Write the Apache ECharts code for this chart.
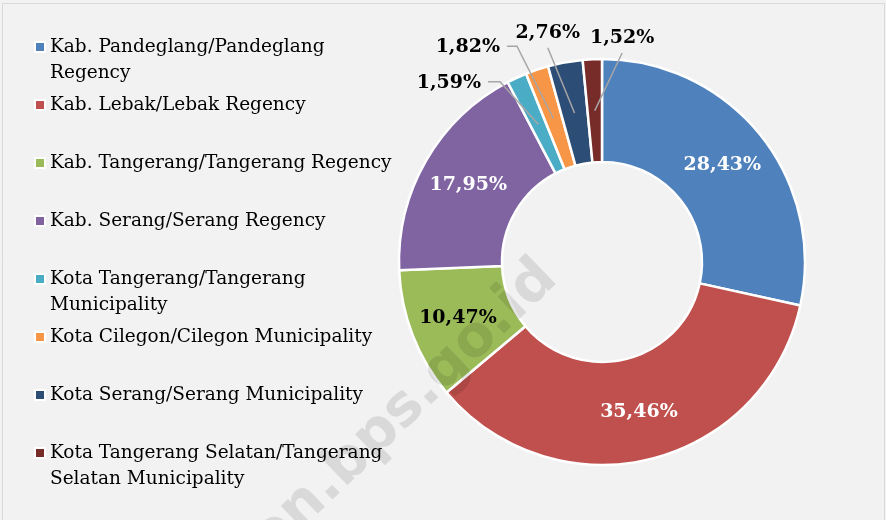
<!DOCTYPE html>
<html>
<head>
<meta charset="utf-8">
<script src="https://cdn.jsdelivr.net/npm/echarts@6/dist/echarts.min.js"></script>
<style>
    html, body { margin: 0; padding: 0; background: #ffffff; }
    #main { width: 886px; height: 520px; }
</style>
</head>
<body>
<div id="main"></div>
<script>
// regions, clockwise from 12 o'clock (same order as the legend)
var regions = [
    'Kab. Pandeglang/Pandeglang Regency',
    'Kab. Lebak/Lebak Regency',
    'Kab. Tangerang/Tangerang Regency',
    'Kab. Serang/Serang Regency',
    'Kota Tangerang/Tangerang Municipality',
    'Kota Cilegon/Cilegon Municipality',
    'Kota Serang/Serang Municipality',
    'Kota Tangerang Selatan/Tangerang Selatan Municipality'
];
// share of each region, %
var shares = [28.43, 35.46, 10.47, 17.95, 1.59, 1.82, 2.76, 1.52];
// legend text as wrapped in the picture
var legendLabels = [
    'Kab. Pandeglang/Pandeglang\nRegency',
    'Kab. Lebak/Lebak Regency',
    'Kab. Tangerang/Tangerang Regency',
    'Kab. Serang/Serang Regency',
    'Kota Tangerang/Tangerang\nMunicipality',
    'Kota Cilegon/Cilegon Municipality',
    'Kota Serang/Serang Municipality',
    'Kota Tangerang Selatan/Tangerang\nSelatan Municipality'
];

var colors = ['#4f81bd', '#c0504d', '#9bbb59', '#8064a2', '#4bacc6', '#f79646', '#2c4d75', '#772c2a'];
var insideColors = ['#ffffff', '#ffffff', '#000000', '#ffffff'];

// donut geometry
var CX = 602, CY = 262, R_IN = 100, R_OUT = 203;
var SERIF = '"DejaVu Serif", serif';
var LINE_H = 26;

// where the leader lines of the thin slices end (deg clockwise from top, px from centre)
var leaders = {
    4: { ang: 330.5, r: 207, tail: -12 },
    5: { ang: 338.5, r: 232, tail: -10 },
    6: { ang: 345.8, r: 221, tail: 0 },
    7: { ang: 5.5, r: 210, tail: 0 }
};

var total = shares.reduce(function (a, b) { return a + b; }, 0);
var midAngle = [];
var acc = 0;
shares.forEach(function (v) {
    midAngle.push((acc + v / 2) / total * 360);
    acc += v;
});

function pct(v) {
    return v.toFixed(2).replace('.', ',') + '%';
}

// slices + the labels that sit inside them
var sliceData = regions.map(function (name, i) {
    var inside = !leaders[i];
    return {
        name: name,
        value: shares[i],
        label: { show: inside, position: 'inside', color: insideColors[i] || '#000000' }
    };
});

// transparent copy drawn on top: carries the outside labels and leader lines,
// so the lines can start in the middle of the thin slices
var leaderData = regions.map(function (name, i) {
    var outside = !!leaders[i];
    return {
        name: name,
        value: shares[i],
        label: { show: outside, position: 'outside', color: '#000000' },
        labelLine: { show: outside }
    };
});

// one legend per row so every marker sits on the first line of its text
var legends = regions.map(function (name, i) {
    var lines = legendLabels[i].split('\n').length;
    var text = lines > 1 ? '\n' + legendLabels[i] : legendLabels[i];
    var h = (lines > 1 ? lines + 1 : 1) * LINE_H;
    return {
        data: [name],
        left: 34,
        top: 47 + 58 * i - h / 2,
        padding: 0,
        itemWidth: 10,
        itemHeight: 10,
        icon: 'rect',
        selectedMode: false,
        itemStyle: { borderColor: '#ffffff', borderWidth: 2 },
        formatter: function () { return text; },
        textStyle: { fontFamily: SERIF, fontSize: 18.5, color: '#000000', lineHeight: LINE_H }
    };
});

var labelFont = {
    fontFamily: SERIF,
    fontWeight: 'bold',
    fontSize: 19,
    formatter: function (p) { return pct(p.value); }
};

var myChart = echarts.init(document.getElementById('main'));

var option = {
    backgroundColor: '#f2f2f2',
    animation: false,
    color: colors,
    legend: legends,
    graphic: [
        {
            type: 'polyline',
            silent: true,
            shape: { points: [[2.5, 520], [2.5, 3.5], [884.5, 3.5], [884.5, 520]] },
            style: { stroke: '#d9d9d9', lineWidth: 1, fill: null }
        },
        {
            type: 'text',
            silent: true,
            z: 100,
            x: 352,
            y: 460,
            rotation: 44 * Math.PI / 180,
            style: {
                text: 'banten.bps.go.id',
                fontFamily: '"DejaVu Sans", sans-serif',
                fontWeight: 'bold',
                fontSize: 57,
                fill: 'rgba(0,0,0,0.1)',
                align: 'center',
                verticalAlign: 'middle'
            }
        }
    ],
    series: [
        {
            type: 'pie',
            z: 2,
            center: [CX, CY],
            radius: [R_IN, R_OUT],
            startAngle: 90,
            clockwise: true,
            avoidLabelOverlap: false,
            silent: true,
            itemStyle: { borderColor: '#ffffff', borderWidth: 2.5 },
            label: labelFont,
            labelLine: { show: false },
            data: sliceData
        },
        {
            type: 'pie',
            z: 3,
            center: [CX, CY],
            radius: [R_IN, R_OUT],
            startAngle: 90,
            clockwise: true,
            avoidLabelOverlap: false,
            silent: true,
            itemStyle: { color: 'rgba(0,0,0,0)', borderWidth: 0 },
            label: labelFont,
            labelLine: {
                length: 10,
                length2: 10,
                lineStyle: { color: '#a6a6a6', width: 1.5 }
            },
            labelLayout: function (p) {
                var k = leaders[p.dataIndex];
                if (!k) return {};
                var a0 = midAngle[p.dataIndex] * Math.PI / 180;
                var rm = (R_IN + R_OUT) / 2;
                var start = [CX + rm * Math.sin(a0), CY - rm * Math.cos(a0)];
                var a1 = k.ang * Math.PI / 180;
                var end = [CX + k.r * Math.sin(a1), CY - k.r * Math.cos(a1)];
                var tailEnd = [end[0] + k.tail, end[1]];
                var pts = [start, end, tailEnd];
                if (k.tail < 0) {
                    return { x: tailEnd[0] - 7, y: tailEnd[1] + 1, align: 'right', verticalAlign: 'middle', labelLinePoints: pts };
                }
                return { x: end[0], y: end[1] - 5, align: 'center', verticalAlign: 'bottom', labelLinePoints: pts };
            },
            data: leaderData
        }
    ]
};

myChart.setOption(option);
window.addEventListener('resize', function () {
    myChart.resize();
});
</script>
</body>
</html>
